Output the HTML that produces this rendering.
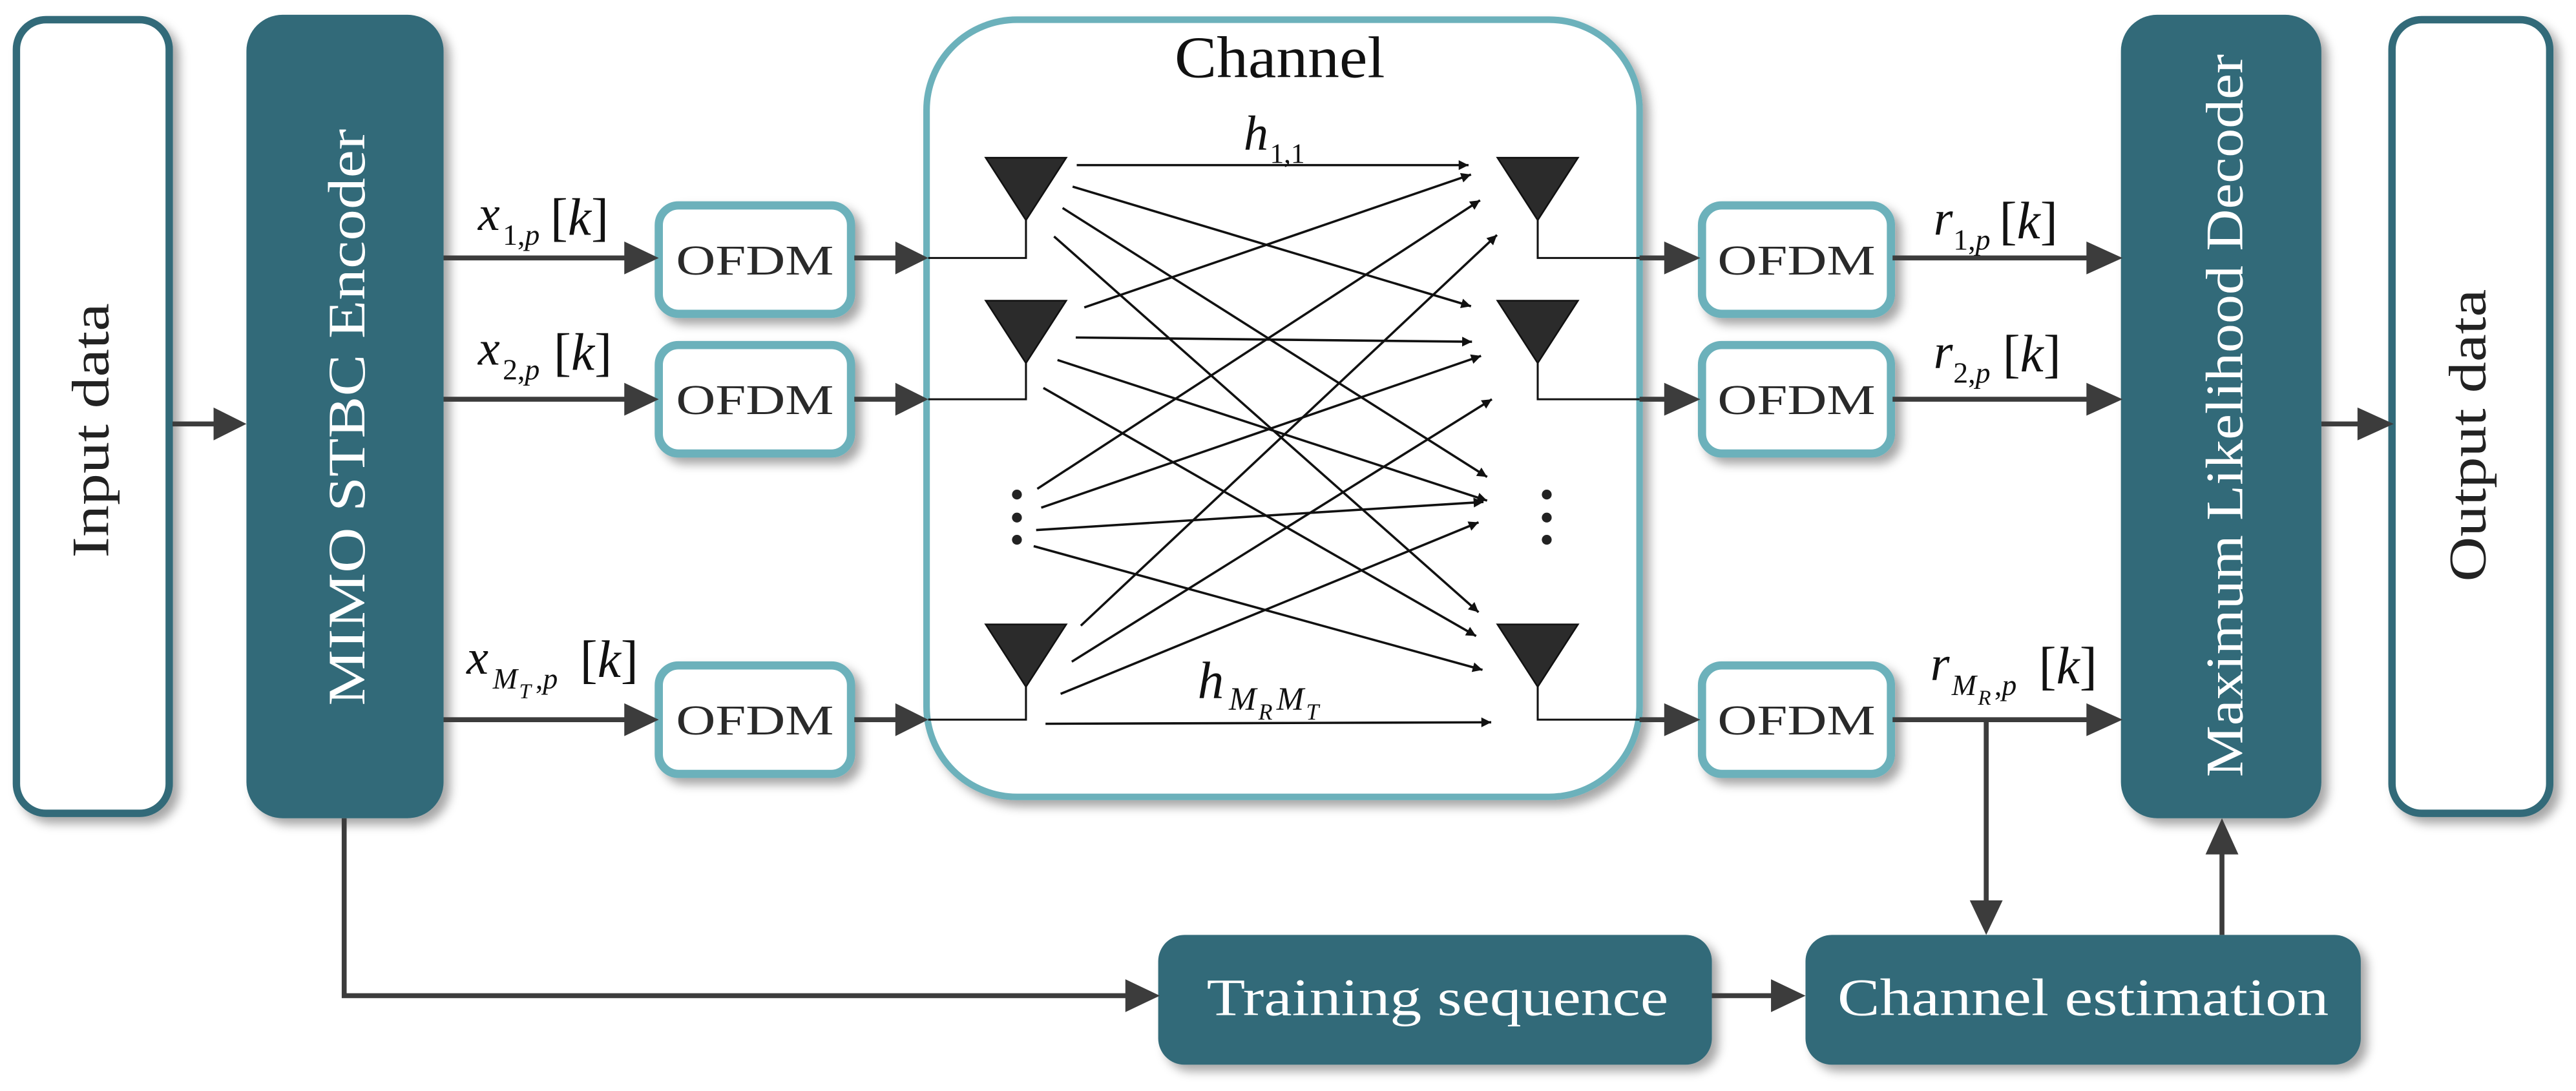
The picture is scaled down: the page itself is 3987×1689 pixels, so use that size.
<!DOCTYPE html>
<html><head><meta charset="utf-8"><style>
html,body{margin:0;padding:0;background:#fff;}
svg{display:block;}
svg text{font-family:"Liberation Serif",serif;}
</style></head><body>
<svg width="3987" height="1689" viewBox="0 0 1568 664" preserveAspectRatio="none" xmlns="http://www.w3.org/2000/svg" font-family="Liberation Serif, serif">
<defs>
<filter id="sh" x="-20%" y="-20%" width="140%" height="140%">
<feDropShadow dx="4" dy="4" stdDeviation="3" flood-color="#000" flood-opacity="0.35"/>
</filter>
<marker id="ah" viewBox="0 0 10 10" refX="10" refY="5" markerWidth="10" markerHeight="6" markerUnits="userSpaceOnUse" orient="auto">
<path d="M0,0 L10,5 L0,10 z" fill="#111"/>
</marker>
</defs>

<rect x="10" y="12" width="93" height="483" rx="18" fill="#fff" stroke="#336b79" stroke-width="4.5" filter="url(#sh)"/>
<rect x="150" y="9" width="120" height="489" rx="22" fill="#336b79" filter="url(#sh)"/>
<rect x="1291" y="9" width="122" height="489" rx="22" fill="#336b79" filter="url(#sh)"/>
<rect x="1456" y="12" width="96" height="483" rx="18" fill="#fff" stroke="#336b79" stroke-width="4.5" filter="url(#sh)"/>
<rect x="564" y="12" width="434" height="473" rx="55" fill="#fff" stroke="#6cb1bb" stroke-width="4" filter="url(#sh)"/>
<rect x="705" y="569" width="337" height="79" rx="16" fill="#336b79" filter="url(#sh)"/>
<rect x="1099" y="569" width="338" height="79" rx="16" fill="#336b79" filter="url(#sh)"/>

<g fill="#fff" stroke="#6cb1bb" stroke-width="5" filter="url(#sh)">
<rect x="401" y="125" width="117" height="66" rx="12"/>
<rect x="401" y="210" width="117" height="66" rx="12"/>
<rect x="401" y="405" width="117" height="66" rx="12"/>
<rect x="1036" y="125" width="115" height="66" rx="12"/>
<rect x="1036" y="210" width="115" height="66" rx="12"/>
<rect x="1036" y="405" width="115" height="66" rx="12"/>
</g>
<g font-size="26" fill="#2a2a2a" text-anchor="middle" font-family="Liberation Serif, serif">
<text x="459.5" y="167" textLength="96" lengthAdjust="spacingAndGlyphs">OFDM</text>
<text x="459.5" y="252" textLength="96" lengthAdjust="spacingAndGlyphs">OFDM</text>
<text x="459.5" y="447" textLength="96" lengthAdjust="spacingAndGlyphs">OFDM</text>
<text x="1093.5" y="167" textLength="96" lengthAdjust="spacingAndGlyphs">OFDM</text>
<text x="1093.5" y="252" textLength="96" lengthAdjust="spacingAndGlyphs">OFDM</text>
<text x="1093.5" y="447" textLength="96" lengthAdjust="spacingAndGlyphs">OFDM</text>
</g>

<g stroke="#3c3c3c" stroke-width="3" fill="none">
<line x1="105" y1="258" x2="132" y2="258"/>
<line x1="270" y1="157" x2="382" y2="157"/>
<line x1="270" y1="243" x2="382" y2="243"/>
<line x1="270" y1="438" x2="382" y2="438"/>
<line x1="520" y1="157" x2="547" y2="157"/>
<line x1="520" y1="243" x2="547" y2="243"/>
<line x1="520" y1="438" x2="547" y2="438"/>
<line x1="998" y1="157" x2="1016" y2="157"/>
<line x1="998" y1="243" x2="1016" y2="243"/>
<line x1="998" y1="438" x2="1016" y2="438"/>
<line x1="1152" y1="157" x2="1273" y2="157"/>
<line x1="1152" y1="243" x2="1273" y2="243"/>
<line x1="1152" y1="438" x2="1273" y2="438"/>
<line x1="1413" y1="258" x2="1438" y2="258"/>
<polyline points="209.5,498 209.5,606 687,606"/>
<line x1="1042" y1="606" x2="1081" y2="606"/>
<line x1="1209" y1="438" x2="1209" y2="551"/>
<line x1="1352.5" y1="569" x2="1352.5" y2="517"/>
</g>
<g fill="#3c3c3c">
<polygon points="130,248 150,258 130,268"/>
<polygon points="380,147 401,157 380,167"/>
<polygon points="380,233 401,243 380,253"/>
<polygon points="380,428 401,438 380,448"/>
<polygon points="545,147 565,157 545,167"/>
<polygon points="545,233 565,243 545,253"/>
<polygon points="545,428 565,438 545,448"/>
<polygon points="1013,147 1035,157 1013,167"/>
<polygon points="1013,233 1035,243 1013,253"/>
<polygon points="1013,428 1035,438 1013,448"/>
<polygon points="1270,147 1292,157 1270,167"/>
<polygon points="1270,233 1292,243 1270,253"/>
<polygon points="1270,428 1292,438 1270,448"/>
<polygon points="1435,248 1457,258 1435,268"/>
<polygon points="685,596 706,606 685,616"/>
<polygon points="1078,596 1099,606 1078,616"/>
<polygon points="1199,548 1209,569 1219,548"/>
<polygon points="1342.5,520 1352.5,498 1362.5,520"/>
</g>

<g stroke="#111" stroke-width="1.2" fill="none">
<polyline points="565,157 624.5,157 624.5,134"/>
<polyline points="565,243 624.5,243 624.5,221"/>
<polyline points="565,438 624.5,438 624.5,418"/>
<polyline points="998,157 936,157 936,134"/>
<polyline points="998,243 936,243 936,221"/>
<polyline points="998,438 936,438 936,418"/>
</g>
<g fill="#2b2b2b" stroke="#111" stroke-width="1">
<polygon points="600,96 649,96 624.5,134"/>
<polygon points="600,183 649,183 624.5,221"/>
<polygon points="600,380 649,380 624.5,418"/>
<polygon points="911.5,96 960.5,96 936,134"/>
<polygon points="911.5,183 960.5,183 936,221"/>
<polygon points="911.5,380 960.5,380 936,418"/>
</g>
<g fill="#222">
<circle cx="619" cy="301" r="3"/><circle cx="619" cy="315" r="3"/><circle cx="619" cy="328.5" r="3"/>
<circle cx="941.5" cy="301" r="3"/><circle cx="941.5" cy="315" r="3"/><circle cx="941.5" cy="328.5" r="3"/>
</g>

<g stroke="#111" stroke-width="1.4" marker-end="url(#ah)">
<line x1="655.4" y1="100.5" x2="893.9" y2="100.5"/>
<line x1="652.9" y1="113.6" x2="895.4" y2="186.4"/>
<line x1="646.8" y1="126.6" x2="905.2" y2="290.3"/>
<line x1="641.6" y1="143.9" x2="900.0" y2="372.6"/>
<line x1="660.0" y1="187.1" x2="895.4" y2="106.2"/>
<line x1="654.8" y1="205.4" x2="896.0" y2="208.0"/>
<line x1="643.7" y1="219.1" x2="905.2" y2="304.7"/>
<line x1="635.1" y1="236.1" x2="898.5" y2="387.1"/>
<line x1="631.4" y1="297.5" x2="900.9" y2="121.9"/>
<line x1="633.8" y1="309.0" x2="901.5" y2="216.6"/>
<line x1="630.7" y1="322.6" x2="903.0" y2="305.5"/>
<line x1="629.2" y1="332.4" x2="902.4" y2="407.7"/>
<line x1="657.9" y1="380.8" x2="911.2" y2="143.0"/>
<line x1="652.4" y1="402.7" x2="908.1" y2="243.0"/>
<line x1="645.6" y1="422.3" x2="900.0" y2="317.9"/>
<line x1="636.4" y1="440.5" x2="907.7" y2="439.6"/>
</g>

<text x="779" y="47" font-size="36" fill="#111" text-anchor="middle" textLength="128" lengthAdjust="spacingAndGlyphs" font-family="Liberation Serif, serif">Channel</text>
<g fill="#fff" font-size="32" text-anchor="middle" dominant-baseline="central" font-family="Liberation Serif, serif">
<text transform="translate(211,254) rotate(-90)" textLength="351" lengthAdjust="spacingAndGlyphs">MIMO STBC Encoder</text>
<text transform="translate(1354,253) rotate(-90)" textLength="440" lengthAdjust="spacingAndGlyphs">Maximum Likelihood Decoder</text>
<text x="875" y="607" textLength="281" lengthAdjust="spacingAndGlyphs">Training sequence</text>
<text x="1268" y="607" textLength="299" lengthAdjust="spacingAndGlyphs">Channel estimation</text>
</g>
<g fill="#222" font-size="32" text-anchor="middle" dominant-baseline="central" font-family="Liberation Serif, serif">
<text transform="translate(55,262) rotate(-90)" textLength="155" lengthAdjust="spacingAndGlyphs">Input data</text>
<text transform="translate(1502,265) rotate(-90)" textLength="178" lengthAdjust="spacingAndGlyphs">Output data</text>
</g>

<g fill="#111" font-family="Liberation Serif, serif">
<text x="291" y="140" font-size="30" font-style="italic">x</text>
<text x="306" y="149" font-size="18">1,<tspan font-style="italic">p</tspan></text>
<text x="335" y="143" font-size="32">[<tspan font-style="italic">k</tspan>]</text>

<text x="291" y="222" font-size="30" font-style="italic">x</text>
<text x="306" y="231" font-size="18">2,<tspan font-style="italic">p</tspan></text>
<text x="337" y="225" font-size="32">[<tspan font-style="italic">k</tspan>]</text>

<text x="284" y="410" font-size="30" font-style="italic">x</text>
<text x="300" y="419" font-size="18" font-style="italic">M</text>
<text x="316" y="425" font-size="13" font-style="italic">T</text>
<text x="326" y="419" font-size="18">,<tspan font-style="italic">p</tspan></text>
<text x="353" y="412" font-size="32">[<tspan font-style="italic">k</tspan>]</text>

<text x="1177" y="143" font-size="30" font-style="italic">r</text>
<text x="1189" y="152" font-size="18">1,<tspan font-style="italic">p</tspan></text>
<text x="1217" y="145" font-size="32">[<tspan font-style="italic">k</tspan>]</text>

<text x="1177" y="224" font-size="30" font-style="italic">r</text>
<text x="1189" y="233" font-size="18">2,<tspan font-style="italic">p</tspan></text>
<text x="1219" y="226" font-size="32">[<tspan font-style="italic">k</tspan>]</text>

<text x="1175" y="414" font-size="30" font-style="italic">r</text>
<text x="1188" y="423" font-size="18" font-style="italic">M</text>
<text x="1204" y="429" font-size="13" font-style="italic">R</text>
<text x="1214" y="423" font-size="18">,<tspan font-style="italic">p</tspan></text>
<text x="1241" y="416" font-size="32">[<tspan font-style="italic">k</tspan>]</text>

<text x="757" y="91" font-size="30" font-style="italic">h</text>
<text x="773" y="99" font-size="17">1,1</text>

<text x="729" y="425" font-size="32" font-style="italic">h</text>
<text x="748" y="432" font-size="20" font-style="italic">M</text>
<text x="766" y="438" font-size="14" font-style="italic">R</text>
<text x="777" y="432" font-size="20" font-style="italic">M</text>
<text x="795" y="438" font-size="14" font-style="italic">T</text>
</g>
</svg>
</body></html>
